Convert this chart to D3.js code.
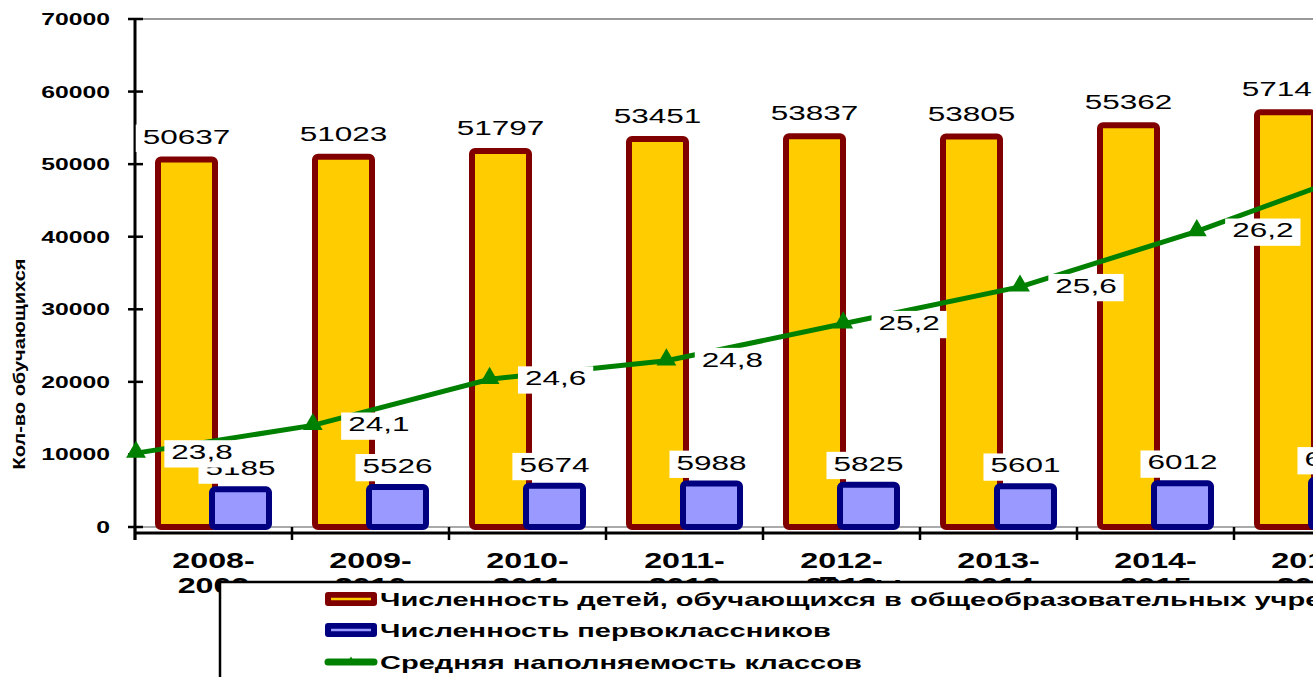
<!DOCTYPE html>
<html>
<head>
<meta charset="utf-8">
<script src="https://cdn.jsdelivr.net/npm/d3@7"></script>
<style>
  html, body { margin: 0; padding: 0; background: #fff; overflow: hidden; }
  text { font-family: "Liberation Sans", Arial, sans-serif; }
</style>
</head>
<body>
<svg id="chart" width="1313" height="677"></svg>
<script>
// school years (second line partly hidden by the legend)
const years = ["2008-2009", "2009-2010", "2010-2011", "2011-2012",
               "2012-2013", "2013-2014", "2014-2015", "2015-2016"];
const pupils = [50637, 51023, 51797, 53451, 53837, 53805, 55362, 57143];
const firstGraders = [5185, 5526, 5674, 5988, 5825, 5601, 6012, 6480];
const classSize = [23.8, 24.1, 24.6, 24.8, 25.2, 25.6, 26.2, 26.9];
const yTicks = [0, 10000, 20000, 30000, 40000, 50000, 60000, 70000];
const legendLabels = [
  "Численность детей, обучающихся в общеобразовательных учреждениях",
  "Численность первоклассников",
  "Средняя наполняемость классов"
];

const svg = d3.select("#chart");
const stretch = 1.5; // text in the picture is drawn wide

const yScale = d3.scaleLinear().domain([0, 70000]).range([527, 19]);
const xBand = d3.scaleBand().domain(years).range([135, 135 + 8 * 157]);
// line series sits on its own (hidden) secondary axes
const xLine = d3.scalePoint().domain(years).range([136, 136 + 7 * 176.8]);
const yLine = d3.scaleLinear().domain([23, 28.5]).range([527, 19]);

const RED = "#800000", YELLOW = "#ffcc00", NAVY = "#000080", LAV = "#9999ff", GREEN = "#008000";

function wideText(g, x, y, str, opts) {
  const t = g.append("text")
    .attr("transform", `translate(${x},${y}) scale(${opts.stretch || stretch},1)`)
    .attr("text-anchor", opts.anchor || "middle")
    .attr("font-size", opts.size)
    .attr("font-weight", opts.weight || "normal")
    .attr("fill", "#000")
    .text(str);
  return t;
}

// plot area borders (gray)
svg.append("line").attr("x1", 143).attr("x2", 1313).attr("y1", yScale(70000)).attr("y2", yScale(70000))
  .attr("stroke", "#999").attr("stroke-width", 2);
svg.append("line").attr("x1", 143).attr("x2", 1313).attr("y1", yScale(0)).attr("y2", yScale(0))
  .attr("stroke", "#aaa").attr("stroke-width", 2);

// y axis
svg.append("line").attr("x1", 135).attr("x2", 135).attr("y1", yScale(70000)).attr("y2", 540)
  .attr("stroke", "#000").attr("stroke-width", 3);
yTicks.forEach(v => {
  svg.append("line").attr("x1", 128).attr("x2", 143).attr("y1", yScale(v)).attr("y2", yScale(v))
    .attr("stroke", "#000").attr("stroke-width", 2.5);
  wideText(svg, 110, yScale(v) + 6, v, { anchor: "end", size: 16.5, weight: "bold" });
});

// y title
svg.append("text")
  .attr("transform", `translate(25,364) rotate(-90) scale(1.25,1)`)
  .attr("text-anchor", "middle")
  .attr("font-size", 16)
  .attr("font-weight", "bold")
  .text("Кол-во обучающихся");

// x axis
svg.append("line").attr("x1", 135).attr("x2", 1313).attr("y1", 533).attr("y2", 533)
  .attr("stroke", "#000").attr("stroke-width", 3);
years.forEach(y => {
  const x0 = xBand(y);
  svg.append("line").attr("x1", x0).attr("x2", x0).attr("y1", 527).attr("y2", 540)
    .attr("stroke", "#000").attr("stroke-width", 2.5);
});

// bars
const bars = svg.append("g");
bars.selectAll("rect.pupils")
  .data(years)
  .join("rect")
  .attr("class", "pupils")
  .attr("x", d => xBand(d) + 23)
  .attr("y", (d, i) => yScale(pupils[i]))
  .attr("width", 57)
  .attr("height", (d, i) => yScale(0) - yScale(pupils[i]))
  .attr("rx", 3)
  .attr("fill", YELLOW)
  .attr("stroke", RED)
  .attr("stroke-width", 6);

bars.selectAll("rect.first")
  .data(years)
  .join("rect")
  .attr("class", "first")
  .attr("x", d => xBand(d) + 77)
  .attr("y", (d, i) => yScale(firstGraders[i]))
  .attr("width", 57)
  .attr("height", (d, i) => yScale(0) - yScale(firstGraders[i]))
  .attr("rx", 3)
  .attr("fill", LAV)
  .attr("stroke", NAVY)
  .attr("stroke-width", 6);

// labels with white boxes
function boxedLabel(g, cx, baseline, str, size) {
  const grp = g.append("g");
  const t = wideText(grp, cx, baseline, str, { size: size });
  const w = t.node().getBBox().width * stretch;
  grp.insert("rect", "text")
    .attr("x", cx - w / 2 - 7)
    .attr("y", baseline - size * 0.9)
    .attr("width", w + 14)
    .attr("height", size * 1.3)
    .attr("fill", "#fff");
}

const labels = svg.append("g");
years.forEach((y, i) => {
  boxedLabel(labels, xBand(y) + 51.5, yScale(pupils[i]) - 16, pupils[i], 21);
});
years.forEach((y, i) => {
  boxedLabel(labels, xBand(y) + 105.5, yScale(firstGraders[i]) - 14, firstGraders[i], 21);
});

// line series
svg.append("path")
  .datum(classSize)
  .attr("fill", "none")
  .attr("stroke", GREEN)
  .attr("stroke-width", 5)
  .attr("d", d3.line().x((d, i) => xLine(years[i])).y(d => yLine(d)));

svg.selectAll("path.marker")
  .data(classSize)
  .join("path")
  .attr("class", "marker")
  .attr("transform", (d, i) => `translate(${xLine(years[i])},${yLine(d) - 1})`)
  .attr("d", d3.symbol(d3.symbolTriangle, 170))
  .attr("fill", GREEN);

const lineLabels = svg.append("g");
classSize.forEach((v, i) => {
  const txt = String(v).replace(".", ",");
  boxedLabel(lineLabels, xLine(years[i]) + 66, yLine(v) + 6, txt, 21);
});

// x tick labels
years.forEach(y => {
  const [a, b] = y.split("-");
  const cx = xBand(y) + xBand.bandwidth() / 2;
  wideText(svg, cx, 568, a + "-", { size: 21.5, weight: "bold" });
  wideText(svg, cx, 593, b, { size: 21.5, weight: "bold" });
});
wideText(svg, 860, 592, "Годы", { size: 21.5, weight: "bold" });

// legend
const legend = svg.append("g");
legend.append("rect")
  .attr("x", 220).attr("y", 582).attr("width", 1200).attr("height", 200)
  .attr("fill", "#fff").attr("stroke", "#000").attr("stroke-width", 2.5);

const rowY = [599, 630, 662];
legendLabels.forEach((lab, i) => {
  const cy = rowY[i];
  if (i < 2) {
    legend.append("rect")
      .attr("x", 325).attr("y", cy - 7).attr("width", 52).attr("height", 14).attr("rx", 3)
      .attr("fill", i === 0 ? RED : NAVY);
    legend.append("line")
      .attr("x1", 331).attr("x2", 371).attr("y1", cy).attr("y2", cy)
      .attr("stroke", i === 0 ? YELLOW : LAV).attr("stroke-width", 2.5);
  } else {
    legend.append("line")
      .attr("x1", 328).attr("x2", 374).attr("y1", cy).attr("y2", cy)
      .attr("stroke", GREEN).attr("stroke-width", 7).attr("stroke-linecap", "round");
    legend.append("path")
      .attr("transform", `translate(351,${cy})`)
      .attr("d", d3.symbol(d3.symbolTriangle, 40))
      .attr("fill", GREEN);
  }
  wideText(legend, 380, cy + 7, lab, { anchor: "start", size: 17.5, weight: "bold", stretch: 1.66 });
});
</script>
</body>
</html>
